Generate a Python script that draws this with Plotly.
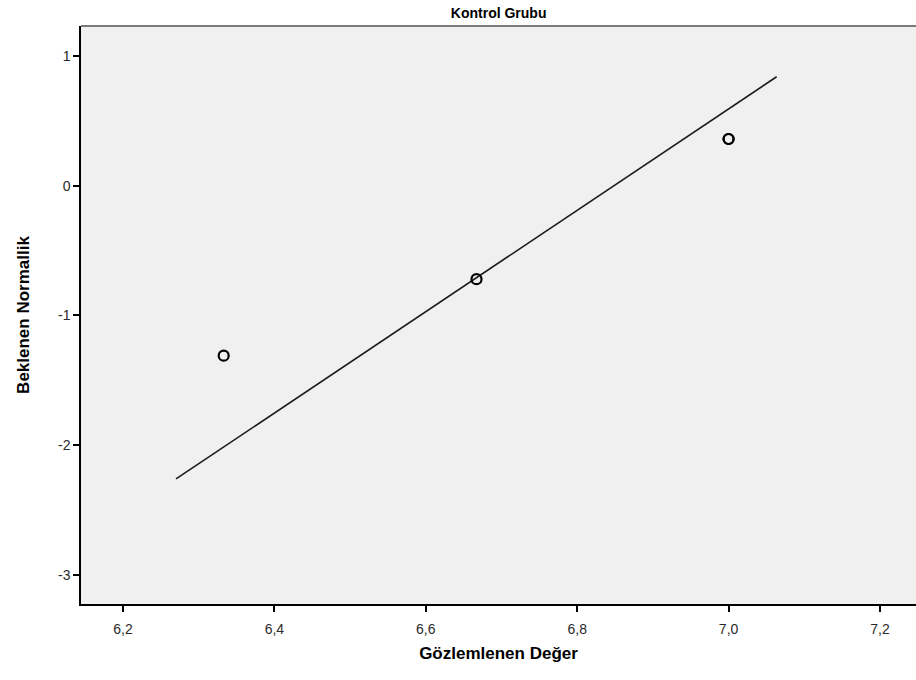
import plotly.graph_objects as go

# Observed values and expected normal values
observed = [6.333, 6.667, 7.0, 7.0]
expected = [-1.31, -0.72, 0.36, 0.36]

# Reference line endpoints
line_x = [6.270, 7.0635]
line_y = [-2.26, 0.84]

x_ticks = [6.2, 6.4, 6.6, 6.8, 7.0, 7.2]
x_tick_labels = ["6,2", "6,4", "6,6", "6,8", "7,0", "7,2"]
y_ticks = [1, 0, -1, -2, -3]
y_tick_labels = ["1", "0", "-1", "-2", "-3"]

tick_font = dict(family="Liberation Sans, Arial, sans-serif", size=14, color="#2a2a2a")

fig = go.Figure()
fig.add_trace(go.Scatter(x=line_x, y=line_y, mode="lines",
                         line=dict(color="#1a1a1a", width=1.6),
                         hoverinfo="skip", showlegend=False))
fig.add_trace(go.Scatter(x=observed, y=expected, mode="markers",
                         marker=dict(symbol="circle-open", size=10,
                                     color="#000000", line=dict(width=2.2)),
                         showlegend=False))

fig.update_layout(
    width=916, height=680,
    margin=dict(l=81, r=0, t=26, b=76),
    paper_bgcolor="white",
    plot_bgcolor="#F0F0F0",
    title=dict(text="<b>Kontrol Grubu</b>", x=0.5444, xanchor="center",
               y=0.981, yanchor="middle",
               font=dict(family="Liberation Sans, Arial, sans-serif",
                         size=14, color="#000000")),
    xaxis=dict(range=[6.1445, 7.2476], tickvals=x_ticks, ticktext=x_tick_labels,
               showgrid=False, zeroline=False, showline=True,
               linecolor="#000000", linewidth=1.5,
               ticks="outside", ticklen=6, tickcolor="#000000", tickwidth=1.5,
               ticklabelstandoff=5,
               tickfont=tick_font,
               title=dict(text="<b>Gözlemlenen Değer</b>", standoff=12,
                          font=dict(family="Liberation Sans, Arial, sans-serif",
                                    size=17, color="#000000"))),
    yaxis=dict(range=[-3.224, 1.231], tickvals=y_ticks, ticktext=y_tick_labels,
               showgrid=False, zeroline=False, showline=True,
               linecolor="#000000", linewidth=1.5,
               ticks="outside", ticklen=6, tickcolor="#000000", tickwidth=1.5,
               tickfont=tick_font,
               title=dict(text="<b>Beklenen Normallik</b>", standoff=24,
                          font=dict(family="Liberation Sans, Arial, sans-serif",
                                    size=17, color="#000000"))),
)
fig.add_shape(type="line", xref="paper", yref="paper", x0=0, x1=1, y0=1, y1=1,
              line=dict(color="#7a7a7a", width=2))

fig.write_html("out.html")
